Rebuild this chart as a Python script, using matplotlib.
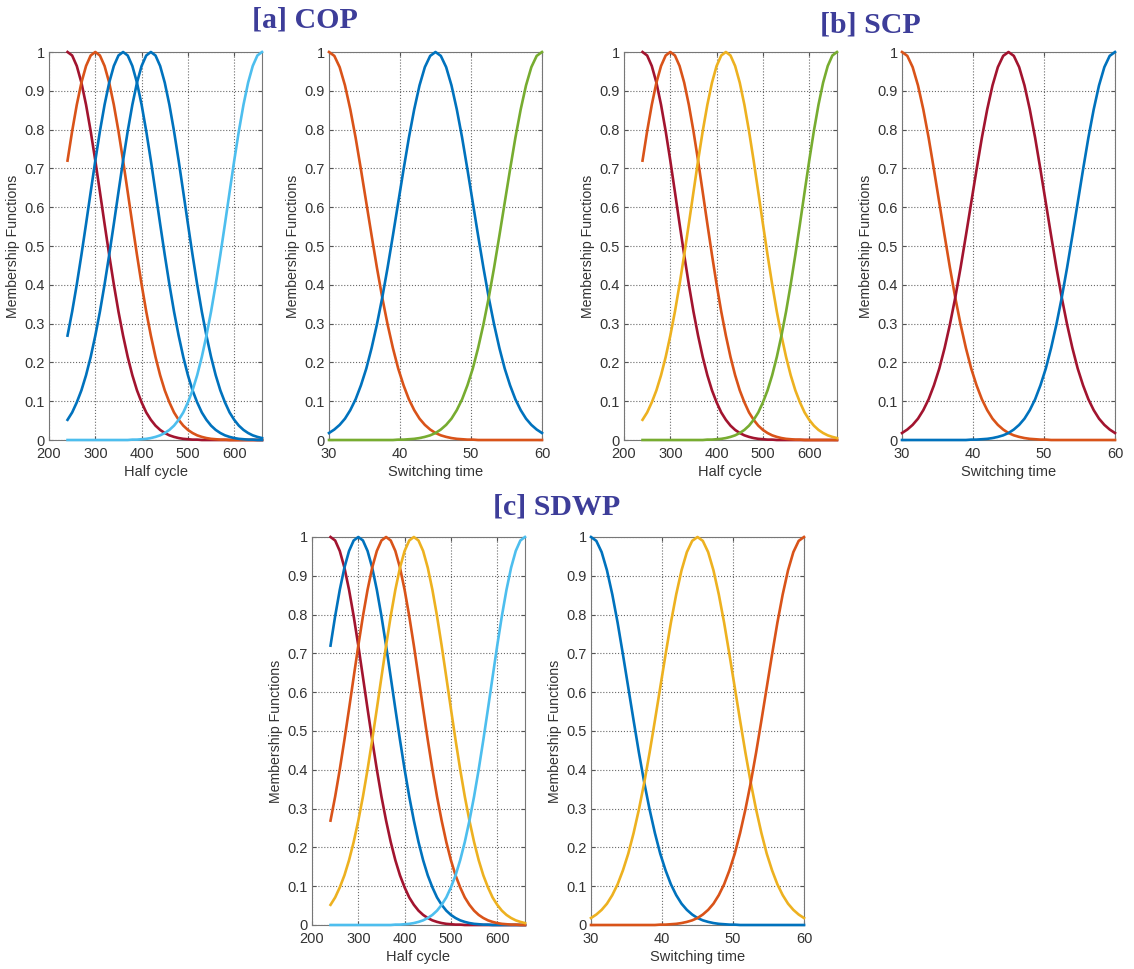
import numpy as np
import matplotlib.pyplot as plt

# half cycle axis, sampled every 10
hc_x = list(range(240, 661, 10))
hc_240 = [1.0, .991, .964, .921, .864, .796, .720, .639, .557, .477, .401, .331, .269, .214,
          .167, .128, .097, .071, .052, .037, .026, .018, .012, .008, .005, .003, .002, .001,
          .001, 0, 0, 0, 0, 0, 0, 0, 0, 0, 0, 0, 0, 0, 0]
hc_300 = [.720, .796, .864, .921, .964, .991, 1.0, .991, .964, .921, .864, .796, .720, .639,
          .557, .477, .401, .331, .269, .214, .167, .128, .097, .071, .052, .037, .026, .018,
          .012, .008, .005, .003, .002, .001, .001, 0, 0, 0, 0, 0, 0, 0, 0]
hc_360 = [.269, .331, .401, .477, .557, .639, .720, .796, .864, .921, .964, .991, 1.0, .991,
          .964, .921, .864, .796, .720, .639, .557, .477, .401, .331, .269, .214, .167, .128,
          .097, .071, .052, .037, .026, .018, .012, .008, .005, .003, .002, .001, .001, 0, 0]
hc_420 = [.052, .071, .097, .128, .167, .214, .269, .331, .401, .477, .557, .639, .720, .796,
          .864, .921, .964, .991, 1.0, .991, .964, .921, .864, .796, .720, .639, .557, .477,
          .401, .331, .269, .214, .167, .128, .097, .071, .052, .037, .026, .018, .012, .008,
          .005]
hc_660 = [0, 0, 0, 0, 0, 0, 0, 0, 0, 0, 0, 0, 0, 0, .001, .001, .002, .003, .005, .008, .012,
          .018, .026, .037, .052, .071, .097, .128, .167, .214, .269, .331, .401, .477, .557,
          .639, .720, .796, .864, .921, .964, .991, 1.0]

# switching time axis, sampled every 0.75
st_x = [30 + 0.75 * i for i in range(41)]
st_30 = [1.0, .990, .961, .914, .852, .779, .697, .612, .527, .444, .367, .298, .237, .184,
         .141, .105, .077, .055, .039, .027, .018, .012, .008, .005, .003, .002, .001, .001,
         0, 0, 0, 0, 0, 0, 0, 0, 0, 0, 0, 0, 0]
st_45 = [.018, .027, .039, .055, .077, .105, .141, .184, .237, .298, .367, .444, .527, .612,
         .697, .779, .852, .914, .961, .990, 1.0, .990, .961, .914, .852, .779, .697, .612,
         .527, .444, .367, .298, .237, .184, .141, .105, .077, .055, .039, .027, .018]
st_60 = [0, 0, 0, 0, 0, 0, 0, 0, 0, 0, 0, 0, 0, .001, .001, .002, .003, .005, .008, .012,
         .018, .027, .039, .055, .077, .105, .141, .184, .237, .298, .367, .444, .527, .612,
         .697, .779, .852, .914, .961, .990, 1.0]

hc_ticks = [200, 300, 400, 500, 600]
st_ticks = [30, 40, 50, 60]
y_ticks = [0, 0.1, 0.2, 0.3, 0.4, 0.5, 0.6, 0.7, 0.8, 0.9, 1]
y_labels = ['0', '0.1', '0.2', '0.3', '0.4', '0.5', '0.6', '0.7', '0.8', '0.9', '1']

titles = ['[a] COP', '[b] SCP', '[c] SDWP']

BLUE = '#0072BD'
ORANGE = '#D95319'
YELLOW = '#EDB120'
GREEN = '#77AC30'
LBLUE = '#4DBEEE'
DRED = '#A2142F'

plt.rcParams['font.family'] = ['Liberation Sans', 'DejaVu Sans']

fig = plt.figure(figsize=(11.34, 9.69), dpi=100)
W, H = 1134.0, 969.0


def panel(left, top, x, curves, xticks, xlim, xlabel):
    ax = fig.add_axes([left / W, 1 - (top + 388) / H, 213 / W, 388 / H])
    for y, c in curves:
        ax.plot(x, y, color=c, lw=1.9, clip_on=False, zorder=3)
    ax.set_xlim(xlim)
    ax.set_ylim(0, 1)
    ax.set_xticks(xticks)
    ax.set_yticks(y_ticks)
    ax.set_yticklabels(y_labels)
    ax.grid(True, ls=':', color='#6a6a6a', lw=0.8)
    ax.tick_params(direction='in', top=True, right=True, labelsize=10.5,
                   length=3, color='#555555', labelcolor='#333333')
    ax.tick_params(axis='x', pad=5)
    ax.tick_params(axis='y', pad=3)
    for s in ax.spines.values():
        s.set_color('#777777')
        s.set_linewidth(0.8)
    ax.set_xlabel(xlabel, fontsize=10.5, color='#333333', labelpad=3)
    ax.set_ylabel('Membership Functions', fontsize=10.2, color='#333333', labelpad=3)
    return ax


hc_lim = (200, 660)
st_lim = (30, 60)

panel(49, 52, hc_x, [(hc_240, DRED), (hc_300, ORANGE), (hc_360, BLUE),
                     (hc_420, BLUE), (hc_660, LBLUE)], hc_ticks, hc_lim, 'Half cycle')
panel(329, 52, st_x, [(st_30, ORANGE), (st_45, BLUE), (st_60, GREEN)],
      st_ticks, st_lim, 'Switching time')
panel(624, 52, hc_x, [(hc_240, DRED), (hc_300, ORANGE), (hc_420, YELLOW),
                      (hc_660, GREEN)], hc_ticks, hc_lim, 'Half cycle')
panel(902, 52, st_x, [(st_30, ORANGE), (st_45, DRED), (st_60, BLUE)],
      st_ticks, st_lim, 'Switching time')
panel(312, 537, hc_x, [(hc_240, DRED), (hc_300, BLUE), (hc_360, ORANGE),
                       (hc_420, YELLOW), (hc_660, LBLUE)], hc_ticks, hc_lim, 'Half cycle')
panel(591, 537, st_x, [(st_30, BLUE), (st_45, YELLOW), (st_60, ORANGE)],
      st_ticks, st_lim, 'Switching time')

title_pos = [(305, 20), (870, 25), (557, 507)]
for t, (px, py) in zip(titles, title_pos):
    fig.text(px / W, 1 - py / H, t, ha='center', va='center', fontsize=21.5,
             fontweight='bold', color='#3d3d99', family='Liberation Serif')

fig.savefig('out.png', dpi=100)
